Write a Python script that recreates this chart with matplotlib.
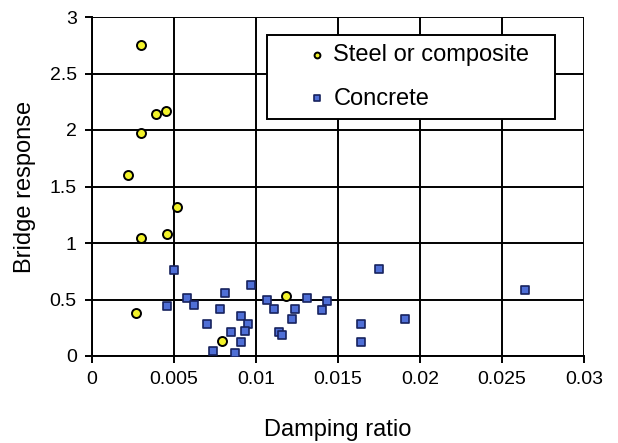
import matplotlib
matplotlib.use("Agg")
import matplotlib.pyplot as plt

plt.rcParams['font.family'] = ['Liberation Sans', 'DejaVu Sans']

# steel or composite bridges
steel_x = [0.0030, 0.0039, 0.0045, 0.0030, 0.0022, 0.0052, 0.0030, 0.0046, 0.0027, 0.0079, 0.0118]
steel_y = [2.75, 2.14, 2.17, 1.97, 1.60, 1.32, 1.04, 1.08, 0.38, 0.13, 0.53]

# concrete bridges
conc_x = [0.0050, 0.0046, 0.0058, 0.0062, 0.0081, 0.0078, 0.0097, 0.0070, 0.0091, 0.0095,
          0.0093, 0.0085, 0.0091, 0.0074, 0.0087, 0.0107, 0.0111, 0.0124, 0.0122, 0.0131,
          0.0143, 0.0140, 0.0114, 0.0116, 0.0175, 0.0164, 0.0164, 0.0191, 0.0264]
conc_y = [0.76, 0.44, 0.51, 0.45, 0.56, 0.42, 0.63, 0.28, 0.35, 0.28,
          0.22, 0.21, 0.12, 0.04, 0.03, 0.50, 0.42, 0.42, 0.33, 0.51,
          0.49, 0.41, 0.21, 0.19, 0.77, 0.28, 0.12, 0.33, 0.58]

xticks = [0, 0.005, 0.01, 0.015, 0.02, 0.025, 0.03]
xlabels = ["0", "0.005", "0.01", "0.015", "0.02", "0.025", "0.03"]
yticks = [0, 0.5, 1, 1.5, 2, 2.5, 3]
ylabels = ["0", "0.5", "1", "1.5", "2", "2.5", "3"]

fig = plt.figure(figsize=(6.18, 4.43), dpi=100)
ax = fig.add_axes([92/618, 1 - 356/443, 492/618, 339/443])

ax.scatter(steel_x, steel_y, s=42, c='#f2f22a', edgecolors='black', linewidths=1.4,
           zorder=3, label='Steel or composite')
ax.scatter(conc_x, conc_y, s=36, marker='s', c='#4f6fd6', edgecolors='#17225e',
           linewidths=1.2, zorder=3, label='Concrete')

ax.set_xlim(0, 0.03)
ax.set_ylim(0, 3)
ax.set_xticks(xticks)
ax.set_xticklabels(xlabels)
ax.set_yticks(yticks)
ax.set_yticklabels(ylabels)
ax.grid(True, color='black', linewidth=1.4)
ax.set_axisbelow(True)
ax.tick_params(labelsize=14, length=5, width=1.4, color='black', pad=6)
for s in ['top', 'right']:
    ax.spines[s].set_visible(False)
for s in ['left', 'bottom']:
    ax.spines[s].set_linewidth(1.4)

ax.set_xlabel('Damping ratio', fontsize=17, labelpad=22)
ax.set_ylabel('Bridge response', fontsize=17, labelpad=10)

leg = ax.legend(loc='upper left', bbox_to_anchor=(0.356, 0.70, 0.585, 0.247),
                mode='expand', borderaxespad=0,
                fontsize=17, markerscale=0.65, handlelength=3.4, handletextpad=-1.0,
                labelspacing=0.9, borderpad=0.4, fancybox=False, framealpha=1)
leg.get_frame().set_edgecolor('black')
leg.get_frame().set_linewidth(1.4)

fig.savefig('out.png', dpi=100)
